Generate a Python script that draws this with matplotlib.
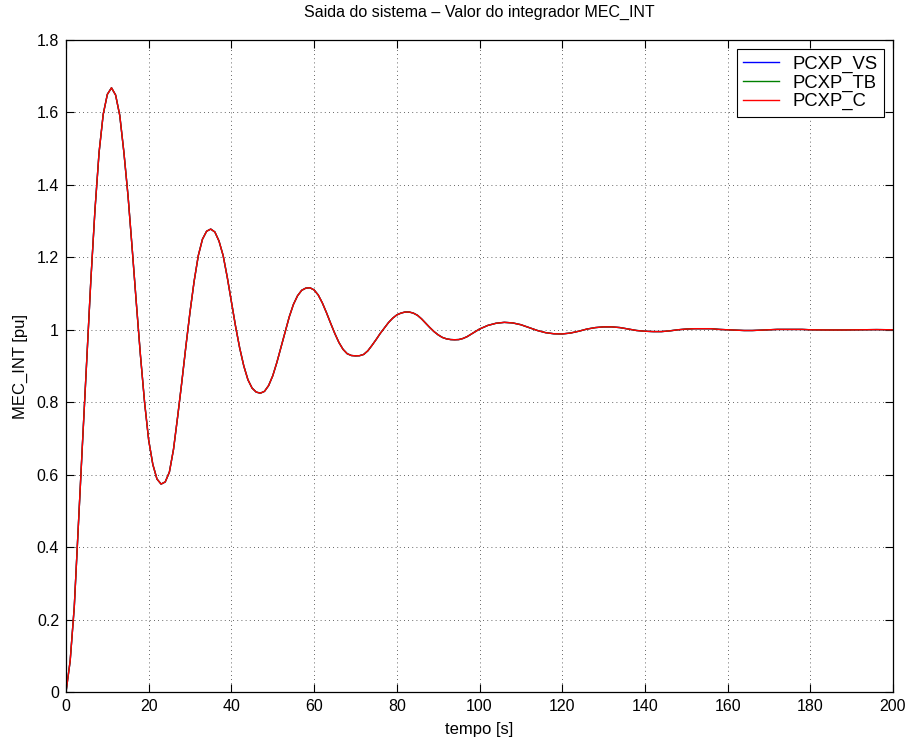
import matplotlib
matplotlib.use("Agg")
import matplotlib.pyplot as plt
from matplotlib.ticker import FixedLocator, FixedFormatter

plt.rcParams['font.family'] = ['Liberation Sans', 'DejaVu Sans']

# time [s]
t = [0, 1, 2, 3, 4, 5, 6, 7, 8, 9, 10, 11, 12, 13, 14, 15, 16, 17, 18, 19,
     20, 21, 22, 23, 24, 25, 26, 27, 28, 29, 30, 31, 32, 33, 34, 35, 36, 37, 38, 39,
     40, 41, 42, 43, 44, 45, 46, 47, 48, 49, 50, 51, 52, 53, 54, 55, 56, 57, 58, 59,
     60, 61, 62, 63, 64, 65, 66, 67, 68, 69, 70, 71, 72, 73, 74, 75, 76, 77, 78, 79,
     80, 81, 82, 83, 84, 85, 86, 87, 88, 89, 90, 91, 92, 93, 94, 95, 96, 97, 98, 99,
     100, 102, 104, 106, 108, 110, 112, 114, 116, 118, 120, 122, 124, 126, 128, 130,
     132, 134, 136, 138, 140, 142, 144, 146, 148, 150, 152, 154, 156, 158, 160, 162,
     164, 166, 168, 170, 172, 174, 176, 178, 180, 184, 188, 192, 196, 200]

pcxp_vs = [0.000, 0.085, 0.235, 0.465, 0.690, 0.910, 1.135, 1.330, 1.490, 1.595,
           1.650, 1.668, 1.648, 1.592, 1.490, 1.370, 1.225, 1.075, 0.930, 0.800,
           0.695, 0.628, 0.588, 0.574, 0.580, 0.607, 0.670, 0.760, 0.855, 0.955,
           1.050, 1.135, 1.205, 1.250, 1.272, 1.278, 1.270, 1.245, 1.205, 1.145,
           1.078, 1.010, 0.950, 0.900, 0.862, 0.839, 0.828, 0.825, 0.830, 0.846,
           0.873, 0.910, 0.952, 0.995, 1.036, 1.070, 1.094, 1.109, 1.115, 1.116,
           1.110, 1.096, 1.074, 1.047, 1.018, 0.990, 0.965, 0.946, 0.934, 0.929,
           0.928, 0.9285, 0.932, 0.942, 0.957, 0.973, 0.990, 1.005, 1.020, 1.032,
           1.041, 1.046, 1.049, 1.049, 1.046, 1.040, 1.030, 1.018, 1.006, 0.995,
           0.986, 0.979, 0.975, 0.973, 0.9725, 0.973, 0.976, 0.981, 0.988, 0.995,
           1.002, 1.012, 1.018, 1.0205, 1.019, 1.014, 1.006, 0.998, 0.992, 0.989,
           0.9885, 0.991, 0.996, 1.002, 1.006, 1.008, 1.008, 1.006, 1.002, 0.998,
           0.996, 0.995, 0.995, 0.997, 1.000, 1.002, 1.003, 1.003, 1.003, 1.001,
           1.000, 0.999, 0.998, 0.998, 0.999, 1.000, 1.001, 1.001, 1.001, 1.001,
           1.000, 0.9995, 0.9995, 1.000, 1.0005, 1.000]
pcxp_tb = list(pcxp_vs)
pcxp_c = list(pcxp_vs)

series_names = ['PCXP_VS', 'PCXP_TB', 'PCXP_C']
series_colors = ['#0000ff', '#008000', '#ff0000']

xticks = [0, 20, 40, 60, 80, 100, 120, 140, 160, 180, 200]
xticklabels = ['0', '20', '40', '60', '80', '100', '120', '140', '160', '180', '200']
yticks = [0, 0.2, 0.4, 0.6, 0.8, 1.0, 1.2, 1.4, 1.6, 1.8]
yticklabels = ['0', '0.2', '0.4', '0.6', '0.8', '1', '1.2', '1.4', '1.6', '1.8']

fig = plt.figure(figsize=(9.10, 7.42), dpi=100)
ax = fig.add_axes([66/910, 1 - 692/742, 827/910, 652/742])

for y, name, c in zip([pcxp_vs, pcxp_tb, pcxp_c], series_names, series_colors):
    ax.plot(t, y, color=c, lw=1.0, label=name, solid_joinstyle='round')

ax.set_xlim(0, 200)
ax.set_ylim(0, 1.8)
ax.xaxis.set_major_locator(FixedLocator(xticks))
ax.xaxis.set_major_formatter(FixedFormatter(xticklabels))
ax.yaxis.set_major_locator(FixedLocator(yticks))
ax.yaxis.set_major_formatter(FixedFormatter(yticklabels))
ax.tick_params(direction='in', length=6, width=0.8, labelsize=11.5,
               top=True, right=True, pad=5)
ax.grid(True, color='black', linestyle=(0, (1, 4)), linewidth=0.6, alpha=0.8)
for s in ax.spines.values():
    s.set_linewidth(0.9)

ax.set_title('Saida do sistema \u2013 Valor do integrador MEC_INT', fontsize=11.5, pad=17)
ax.set_xlabel('tempo [s]', fontsize=12, labelpad=6)
ax.set_ylabel('MEC_INT [pu]', fontsize=12, labelpad=6)

leg = ax.legend(loc='upper right', fontsize=13.3, fancybox=False, framealpha=1,
                edgecolor='black', borderaxespad=0.5, handlelength=1.95,
                labelspacing=0.08, borderpad=0.35, handletextpad=0.7)
leg.get_frame().set_linewidth(0.8)

fig.savefig('out.png', dpi=100)
